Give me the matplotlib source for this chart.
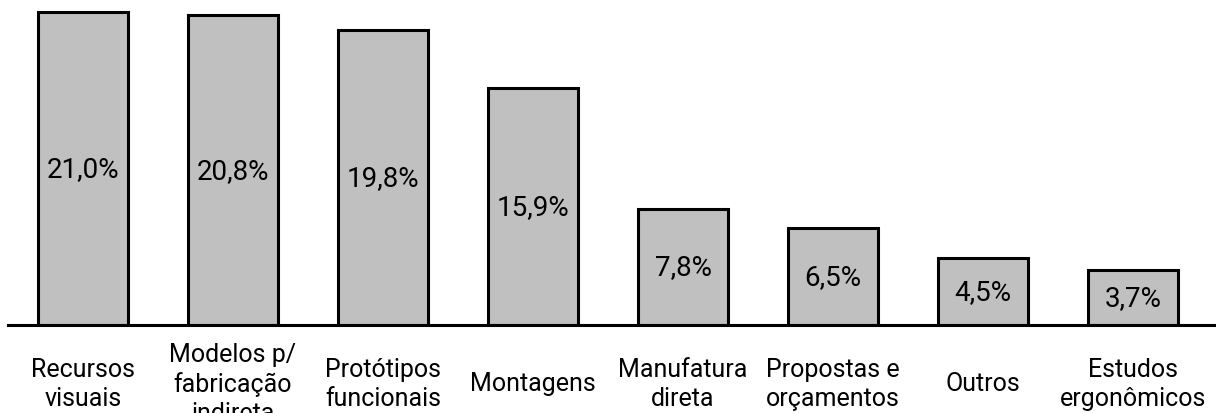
import matplotlib.pyplot as plt

categorias = ['Recursos\nvisuais', 'Modelos p/\nfabricação\nindireta', 'Protótipos\nfuncionais',
              'Montagens', 'Manufatura\ndireta', 'Propostas e\norçamentos', 'Outros',
              'Estudos\nergonômicos']
valores = [21.0, 20.8, 19.8, 15.9, 7.8, 6.5, 4.5, 3.7]

plt.rcParams['font.family'] = ['Roboto', 'DejaVu Sans']

fig = plt.figure(figsize=(12.16, 4.14), dpi=100)
ax = fig.add_axes([8 / 1216, 88 / 414, 1 - 8 / 1216, 1 - 88 / 414])

x = range(len(valores))
bars = ax.bar(x, valores, width=0.6, color='#c0c0c0', edgecolor='black', linewidth=2.2)

for xi, v in zip(x, valores):
    ax.text(xi, v / 2, ('%.1f%%' % v).replace('.', ','), ha='center', va='center',
            fontsize=20, color='black')

ax.set_xlim(-0.5, 7.553)
ax.set_ylim(0, 21.9)

ax.set_xticks(list(x))
ax.set_xticklabels(categorias, fontsize=18, va='center', linespacing=1.26)
ax.tick_params(axis='x', length=0, pad=42)
ax.set_yticks([])

for s in ['top', 'right', 'left']:
    ax.spines[s].set_visible(False)
ax.spines['bottom'].set_linewidth(2.2)

fig.savefig('out.png', dpi=100)
